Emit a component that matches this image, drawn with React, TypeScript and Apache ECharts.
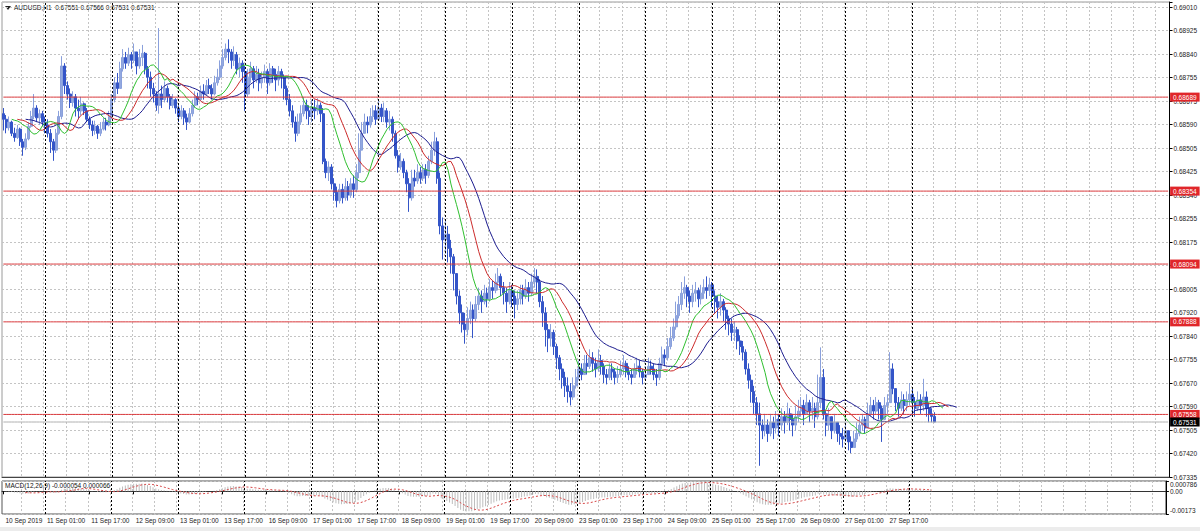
import React, { useEffect, useRef } from 'react';
import * as echarts from 'echarts';

// Prices are stored as 1e-5 units above 0.67000 (e.g. 1610 -> 0.68610)
const firstOpen = 1630;
const closes = [
  1610,1580,1600,1560,1545,1575,1530,1510,1540,1585,1620,1650,1615,1630,1600,
  1590,1560,1530,1500,1560,1620,1800,1730,
  1700,1670,1690,1650,1640,1665,
  1640,1610,1590,1570,1585,1560,1575,1600,1590,1620,
  1680,1740,1720,
  1790,1830,1810,1840,1820,1850,1800,1830,1845,1790,1760,
  1720,1700,1660,1700,1680,1720,1690,1660,1680,
  1650,1620,1640,1615,1600,1630,
  1660,1690,1680,1710,1700,1730,1720,1700,1740,1760,
  1800,1830,1860,1850,1820,1840,1790,1810,
  1780,1700,1760,1790,1750,1770,1740,
  1760,1780,1740,1790,1770,1750,1780,1760,1720,
  1680,1640,1600,1560,1600,
  1630,1660,1640,1620,1650,
  1640,1660,1630,
  1460,
  1420,1440,1380,1350,1320,1360,1330,1370,
  1340,1380,1360,1420,1500,
  1560,1600,1590,1620,1640,1610,1650,
  1620,1640,1600,1610,1560,
  1480,1440,1460,
  1420,1380,1330,1400,1390,1420,1400,
  1430,1410,1460,1500,1530,
  1400,1230,1180,
  1200,1150,1120,1060,
  980,920,880,860,900,
  930,900,950,980,960,
  990,970,1010,1000,1030,1050,
  1010,990,960,1000,980,950,970,
  1000,980,1010,990,1030,1050,1030,
  960,920,860,830,
  850,800,760,720,690,660,640,620,
  660,690,720,700,740,730,760,740,
  720,750,730,700,690,720,710,690,700,720,740,710,700,690,720,730,710,690,700,730,720,700,690,
  740,770,760,800,830,870,910,
  950,990,1010,980,960,990,1000,970,990,1010,1000,1020,980,960,940,
  960,930,900,880,850,860,820,800,780,
  720,680,640,600,560,
  520,
  500,520,490,530,510,
  540,520,550,530,560,540,520,550,570,
  590,560,600,570,580,550,600,
  690,560,
  520,550,500,530,490,
  480,470,500,460,440,470,490,
  520,540,510,
  560,590,570,600,580,540,590,600,
  720,650,
  600,580,610,590,
  610,630,600,580,610,590,
  620,580,560,551,531,
];
const highs = [
  1650,1625,1620,1605,1580,1590,1580,1540,1560,1600,1640,1700,1660,1645,1640,
  1620,1610,1575,1540,1575,1640,1835,1810,
  1745,1720,1710,1700,1680,1690,
  1670,1650,1620,1605,1605,1590,1600,1615,1615,1640,
  1700,1760,1775,
  1815,1860,1850,1865,1850,1880,1850,1860,1875,1850,1800,
  1780,1740,1710,1935,1730,1745,1730,1700,1700,
  1685,1660,1660,1650,1630,1650,
  1680,1710,1705,1730,1735,1750,1755,1735,1765,1790,
  1820,1860,1880,1895,1860,1870,1850,1830,
  1820,1800,1790,1815,1800,1800,1790,
  1780,1805,1790,1810,1800,1790,1800,1790,1770,
  1730,1700,1660,1620,1630,
  1660,1690,1680,1660,1680,
  1680,1685,1670,
  1650,
  1470,1460,1450,1400,1370,1380,1380,1400,
  1390,1400,1410,1450,1560,
  1600,1630,1620,1650,1660,1660,1680,
  1665,1670,1650,1640,1620,
  1570,1500,1490,
  1470,1430,1400,1430,1430,1450,1440,
  1450,1450,1480,1530,1565,
  1545,1420,1260,
  1250,1230,1180,1130,
  1060,1000,950,920,940,
  960,950,980,1010,1000,
  1020,1010,1040,1035,1060,1080,
  1060,1030,1010,1030,1020,1000,1000,
  1020,1020,1040,1030,1060,1080,1075,
  1040,980,940,880,
  880,860,810,770,740,710,690,670,
  690,720,750,740,770,770,790,780,
  760,790,770,740,720,740,740,720,730,750,770,750,730,720,740,760,750,720,730,760,750,740,720,
  760,800,790,830,870,900,960,
  980,1030,1050,1020,1000,1020,1030,1010,1020,1040,1050,1045,1030,1000,980,
  990,970,940,910,900,890,870,840,820,
  790,740,700,660,620,
  600,
  540,560,540,560,550,
  570,560,580,570,600,580,560,590,610,
  620,610,630,610,620,600,700,
  797,720,
  570,580,550,560,530,
  520,510,530,500,480,500,530,
  550,560,550,
  600,620,610,620,610,590,620,630,
  780,740,
  650,620,640,630,
  640,670,650,620,640,630,
  685,640,600,580,566,
];
const lows = [
  1570,1560,1570,1550,1530,1540,1515,1480,1500,1535,1580,1610,1600,1590,1585,
  1560,1545,1490,1462,1490,1555,1610,1700,
  1680,1650,1655,1620,1610,1625,
  1625,1600,1575,1550,1555,1540,1550,1570,1570,1585,
  1610,1670,1700,
  1740,1780,1790,1800,1790,1810,1770,1790,1800,1770,1720,
  1690,1670,1640,1630,1650,1670,1670,1645,1650,
  1630,1600,1610,1590,1572,1595,
  1620,1650,1660,1675,1680,1695,1700,1680,1695,1730,
  1750,1790,1820,1810,1790,1800,1770,1760,
  1740,1640,1690,1740,1720,1740,1710,
  1720,1740,1700,1730,1740,1710,1730,1720,1680,
  1660,1620,1580,1530,1550,
  1590,1620,1610,1590,1600,
  1610,1625,1600,
  1450,
  1400,1390,1360,1320,1296,1310,1310,1320,
  1320,1330,1330,1350,1400,
  1520,1560,1560,1580,1600,1590,1610,
  1600,1600,1580,1570,1530,
  1470,1420,1430,
  1400,1350,1280,1320,1370,1380,1380,
  1390,1380,1400,1450,1480,
  1380,1200,1110,
  1130,1100,1060,1000,
  950,880,850,810,840,
  880,830,890,930,920,
  950,940,960,970,990,1000,
  980,950,920,950,940,900,930,
  950,950,970,960,980,1010,990,
  940,870,800,780,
  800,770,720,680,650,620,600,590,
  610,650,680,680,700,700,720,710,
  690,710,700,670,665,680,680,665,670,690,700,690,680,665,690,700,690,665,680,700,700,680,660,
  680,720,730,750,790,820,860,
  900,930,970,940,920,940,960,940,950,970,970,980,940,920,900,
  910,890,860,840,820,820,790,770,750,
  700,650,600,560,520,
  375,
  470,480,460,480,470,
  490,480,500,490,520,500,480,500,530,
  550,520,560,530,540,510,540,
  580,540,
  480,500,470,490,460,
  450,440,460,430,420,440,460,
  480,500,490,
  530,550,540,560,540,460,540,560,
  600,630,
  570,550,570,560,
  570,590,560,550,570,560,
  570,550,530,530,531,
];

const yTickLabels = ['0.67335','0.67420','0.67505','0.67590','0.67670','0.67755','0.67840','0.67920','0.68005','0.68090','0.68175','0.68255','0.68340','0.68425','0.68505','0.68590','0.68675','0.68755','0.68840','0.68925','0.69010'];
const timeLabels = ['10 Sep 2019','11 Sep 01:00','11 Sep 17:00','12 Sep 09:00','13 Sep 01:00','13 Sep 17:00','16 Sep 09:00','17 Sep 01:00','17 Sep 17:00','18 Sep 09:00','19 Sep 01:00','19 Sep 17:00','20 Sep 09:00','23 Sep 01:00','23 Sep 17:00','24 Sep 09:00','25 Sep 01:00','25 Sep 17:00','26 Sep 09:00','27 Sep 01:00','27 Sep 17:00'];
const timeLabelBars = [0,15,31,47,63,79,95,111,127,143,159,175,191,207,223,239,255,271,287,303,319];
const daySeparatorBars = [15,39,63,87,111,135,159,183,207,231,255,279,303,327];
const levelValues = [0.68689, 0.68354, 0.68094, 0.67888, 0.67558];
const levelLabels = ['0.68689', '0.68354', '0.68094', '0.67888', '0.67558'];
const bidValue = 0.67531;
const bidLabel = '0.67531';
const titleText = 'AUDUSD,H1  0.67551 0.67566 0.67531 0.67531';
const macdText = 'MACD(12,26,9) -0.000054 0.000066';

const SLOTS = 420;
const FONT = 'Liberation Sans';

function buildOption() {
  const toPrice = (v: number) => (67000 + v) / 100000;
  const cats = Array.from({ length: SLOTS }, (_, i) => 'b' + i);
  const empty = new Array(SLOTS).fill(null);
  const n = closes.length;
  const candle: number[][] = [];
  const median: number[] = [];
  const closeP: number[] = [];
  for (let i = 0; i < n; i++) {
    const o = i === 0 ? firstOpen : closes[i - 1];
    const c = closes[i];
    const h = Math.max(highs[i], o, c);
    const l = Math.min(lows[i], o, c);
    candle.push([toPrice(o), toPrice(c), toPrice(l), toPrice(h)]);
    median.push((toPrice(h) + toPrice(l)) / 2);
    closeP.push(toPrice(c));
  }
  const smma = (src: number[], p: number) => {
    const out: number[] = [];
    let prev = src[0];
    src.forEach((v, i) => { prev = i === 0 ? v : (prev * (p - 1) + v) / p; out.push(prev); });
    return out;
  };
  const shifted = (src: number[], shift: number) => {
    const out: (number | null)[] = new Array(SLOTS).fill(null);
    src.forEach((v, i) => { if (i + shift < SLOTS) out[i + shift] = v; });
    return out;
  };
  const jaw = shifted(smma(median, 13), 8);
  const teeth = shifted(smma(median, 8), 5);
  const lips = shifted(smma(median, 5), 3);
  const ema = (src: number[], p: number) => {
    const k = 2 / (p + 1);
    const out: number[] = [];
    let prev = src[0];
    src.forEach((v, i) => { prev = i === 0 ? v : v * k + prev * (1 - k); out.push(prev); });
    return out;
  };
  const e12 = ema(closeP, 12), e26 = ema(closeP, 26);
  const macd = closeP.map((_, i) => e12[i] - e26[i]);
  const signal: (number | null)[] = macd.map((_, i) => {
    if (i < 8) return null;
    let s = 0;
    for (let j = i - 8; j <= i; j++) s += macd[j];
    return s / 9;
  });

  const labelOf = (val: string) => {
    const idx = parseInt(String(val).slice(1), 10);
    const k = timeLabelBars.indexOf(idx);
    return k >= 0 ? timeLabels[k] : '';
  };
  const isLabelBar = (index: number) => timeLabelBars.indexOf(index) >= 0;
  const lightGrid = { show: true, interval: (index: number) => index % 8 === 7, lineStyle: { color: '#c4c4c4', type: [2, 2] as any, width: 1 } };
  const sepMarkLine = {
    silent: true, symbol: ['none', 'none'],
    lineStyle: { color: '#000', type: [2, 2], width: 1 },
    label: { show: false },
    data: daySeparatorBars.map((b) => ({ xAxis: 'b' + b })),
  };
  const levelSeries = (name: string, value: number, text: string, lineColor: string, bg: string) => ({
    name, type: 'line', xAxisIndex: 0, yAxisIndex: 0, z: 4, silent: true,
    data: new Array(SLOTS).fill(value), showSymbol: false,
    lineStyle: { color: lineColor, width: 1, type: 'solid' },
    endLabel: {
      show: true, distance: 2, formatter: text, color: '#fff', backgroundColor: bg,
      fontSize: 6.5, fontFamily: FONT, padding: [1, 3, 1, 3],
    },
  });

  const macdMin = -0.00173, macdMax = 0.000786;

  return {
    animation: false,
    backgroundColor: '#ffffff',
    textStyle: { fontFamily: FONT },
    grid: [
      { left: 2, top: 2, width: 1170, height: 475, show: true, borderColor: '#9a9a9a', borderWidth: 1, backgroundColor: '#fff' },
      { left: 2, top: 481, width: 1170, height: 33, show: true, borderColor: '#555', borderWidth: 1, backgroundColor: '#fff' },
    ],
    xAxis: [
      {
        type: 'category', gridIndex: 0, data: cats, boundaryGap: true,
        axisLine: { show: true, lineStyle: { color: '#444', width: 1 } },
        axisTick: { show: false }, axisLabel: { show: false },
        splitLine: lightGrid,
      },
      {
        type: 'category', gridIndex: 1, data: cats, boundaryGap: true,
        axisLine: { show: true, lineStyle: { color: '#333', width: 1 } },
        axisTick: { show: true, alignWithLabel: true, interval: (i: number) => isLabelBar(i), length: 3, lineStyle: { color: '#000' } },
        axisLabel: {
          show: true, interval: (i: number) => isLabelBar(i), formatter: (v: string) => labelOf(v),
          align: 'left', fontSize: 6.5, color: '#222', margin: 3, padding: [0, 0, 0, 2], fontFamily: FONT,
        },
        splitLine: lightGrid,
      },
    ],
    yAxis: [
      {
        type: 'value', gridIndex: 0, position: 'right', min: 0.67335, max: 0.69028, interval: 0.0008375,
        axisLine: { show: true, lineStyle: { color: '#000', width: 1 } },
        axisTick: { show: true, length: 3, lineStyle: { color: '#000' } },
        axisLabel: {
          fontSize: 6.5, color: '#222', margin: 4, fontFamily: FONT,
          formatter: (v: number) => {
            let best = '', bd = 1;
            yTickLabels.forEach((s) => { const d = Math.abs(parseFloat(s) - v); if (d < bd) { bd = d; best = s; } });
            return bd < 0.0001 ? best : '';
          },
        },
        splitLine: { show: true, lineStyle: { color: '#c4c4c4', type: [2, 2], width: 1 } },
      },
      {
        type: 'value', gridIndex: 1, position: 'right', min: macdMin, max: macdMax, interval: 0.00173,
        axisLine: { show: true, lineStyle: { color: '#000', width: 1 } },
        axisTick: { show: true, length: 3, lineStyle: { color: '#000' } },
        axisLabel: {
          fontSize: 6.5, color: '#222', margin: 4, fontFamily: FONT,
          formatter: (v: number) => {
            if (Math.abs(v - macdMax) < 1e-9) return '{top|0.000786}';
            if (Math.abs(v) < 1e-9) return '0.00';
            if (Math.abs(v - macdMin) < 1e-9) return '{bot|-0.00173}';
            return '';
          },
          rich: {
            top: { fontSize: 6.5, color: '#222', fontFamily: FONT, padding: [7, 0, 0, 0] },
            bot: { fontSize: 6.5, color: '#222', fontFamily: FONT, padding: [0, 0, 7, 0] },
          },
        },
        splitLine: { show: true, lineStyle: { color: '#c4c4c4', type: [2, 2], width: 1 } },
      },
    ],
    graphic: [
      { type: 'rect', shape: { x: 0, y: 527, width: 1200, height: 4 }, style: { fill: '#ececec' }, silent: true },
      { type: 'polygon', shape: { points: [[5, 6], [11, 6], [8, 10]] }, style: { fill: '#222' }, silent: true },
      { type: 'text', x: 14, y: 4, style: { text: titleText, fill: '#111', font: `6.5px "${FONT}"` }, silent: true },
      { type: 'text', x: 5, y: 482, style: { text: macdText, fill: '#111', font: `6.5px "${FONT}"` }, silent: true },
    ],
    series: [
      {
        name: 'Separators', type: 'line', xAxisIndex: 0, yAxisIndex: 0, data: empty, showSymbol: false,
        lineStyle: { opacity: 0 }, markLine: sepMarkLine, z: 1,
      },
      {
        name: 'AUDUSD', type: 'candlestick', xAxisIndex: 0, yAxisIndex: 0, data: candle, barWidth: 2.5,
        itemStyle: { color: '#93a9e0', color0: '#3455c8', borderColor: '#8aa0dc', borderColor0: '#3455c8', borderWidth: 1 },
        z: 2,
      },
      ...levelValues.map((v, k) => levelSeries('L' + k, v, levelLabels[k], '#d8373a', '#e0262a')),
      levelSeries('Bid', bidValue, bidLabel, '#b0b0b0', '#000'),
      { name: 'Jaw', type: 'line', xAxisIndex: 0, yAxisIndex: 0, data: jaw, showSymbol: false, lineStyle: { color: '#1c1c8e', width: 1 }, z: 3 },
      { name: 'Teeth', type: 'line', xAxisIndex: 0, yAxisIndex: 0, data: teeth, showSymbol: false, lineStyle: { color: '#cc2b2b', width: 1 }, z: 3 },
      { name: 'Lips', type: 'line', xAxisIndex: 0, yAxisIndex: 0, data: lips, showSymbol: false, lineStyle: { color: '#2fbf2f', width: 1 }, z: 3 },
      {
        name: 'MACD', type: 'bar', xAxisIndex: 1, yAxisIndex: 1, data: macd, barWidth: 1, clip: true,
        itemStyle: { color: '#bdbdbd' },
        markLine: sepMarkLine,
      },
      { name: 'Signal', type: 'line', xAxisIndex: 1, yAxisIndex: 1, data: signal, showSymbol: false, lineStyle: { color: '#d64545', width: 1, type: [2, 2] } },
    ],
  };
}

export default function App() {
  const ref = useRef<HTMLDivElement>(null);
  useEffect(() => {
    const chart = echarts.init(ref.current as HTMLDivElement, undefined, { renderer: 'svg' });
    chart.setOption(buildOption() as any);
    return () => chart.dispose();
  }, []);
  return <div ref={ref} style={{ position: 'fixed', left: 0, top: 0, width: 1200, height: 531, background: '#fff' }} />;
}
